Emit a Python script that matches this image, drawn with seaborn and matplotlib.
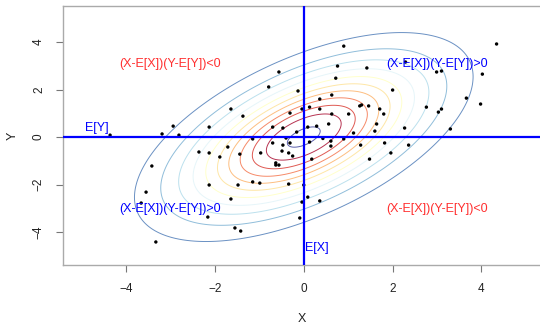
import numpy as np
import pandas as pd
import matplotlib
matplotlib.use("Agg")
import matplotlib.pyplot as plt
import seaborn as sns

# ---- data ----
pts_x = [-0.56, -0.79, -0.13, -1.64, -1.37, -0.31, -0.04, -0.70, -0.47, -2.13,
         -2.94, -3.19, -2.81, -4.36, -1.15, -0.40, 0.09, 0.29, 0.90, 4.34,
         0.76, 1.42, 2.29, 2.99, 3.10, 4.02, 0.72, 2.00, 3.66, 3.98,
         0.63, 0.36, 0.13, 0.36, 0.63, 1.26, 1.30, 1.46, 1.71, 1.80,
         2.76, 3.10, 3.03, 1.01, 0.56, 1.64, 1.60, 2.27, 3.30, 1.12,
         0.43, 0.90, -1.71, -2.36, -2.13, -1.89, -1.44, -0.97, -0.49, -0.34,
         -0.25, -0.63, -0.63, -0.56, -3.42, -2.13, -1.48, -1.15, -0.99, -0.34,
         0.00, -3.55, -1.64, 0.09, -0.04, -3.66, -2.16, -0.09, -1.55, -1.42,
         -3.33, -0.70, -0.47, -0.31, 0.18, -0.16, 0.13, 0.61, 0.61, 1.28,
         1.82, 2.36, 1.48, 1.96, 0.36]
pts_y = [2.74, 2.11, 1.94, 1.18, 0.88, 1.01, 1.18, 0.42, 0.38, 0.42,
         0.46, 0.13, 0.08, 0.08, -0.08, -0.04, 0.42, 0.46, 3.83, 3.92,
         2.99, 2.91, 3.16, 2.74, 2.78, 2.65, 2.48, 1.98, 1.64, 1.39,
         1.77, 1.60, 1.26, 1.18, 0.97, 1.31, 1.35, 1.31, 1.18, 0.97,
         1.26, 1.18, 1.05, 0.97, 0.55, 0.55, 0.25, 0.38, 0.34, 0.17,
         -0.06, -0.08, -0.42, -0.63, -0.67, -0.84, -0.72, -0.67, -0.59, -0.67,
         -0.80, -1.09, -1.18, -1.18, -1.22, -2.02, -2.02, -1.89, -1.94, -1.98,
         -2.02, -2.32, -2.61, -2.53, -2.74, -2.78, -3.37, -3.41, -3.83, -3.96,
         -4.42, -0.25, -0.34, -0.25, -0.93, 0.21, -0.21, -0.17, -0.38, -0.34,
         -0.25, -0.34, -0.93, -0.67, -2.69]

mu = [0.0, 0.0]
sigma = [[3.0, 2.0], [2.0, 4.0]]
levels = [0.005, 0.010, 0.015, 0.020, 0.025, 0.030, 0.035, 0.040, 0.045, 0.050, 0.055]
level_colors = ["#4575B4", "#74ADD1", "#ABD9E9", "#E0F3F8", "#FFFFBF", "#FEE090",
                "#FDAE61", "#F46D43", "#D73027", "#A50026", "#313695"]

neg_label = "(X-E[X])(Y-E[Y])<0"
pos_label = "(X-E[X])(Y-E[Y])>0"

df = pd.DataFrame({"X": pts_x, "Y": pts_y})

sns.set_style("white")
plt.rcParams['font.family'] = ['Liberation Sans', 'DejaVu Sans']

fig = plt.figure(figsize=(5.4, 3.25), dpi=100)
ax = fig.add_axes([63 / 540, 60 / 325, 478 / 540, 259 / 325])

# bivariate normal density on a grid
gx, gy = np.meshgrid(np.linspace(-6, 6, 400), np.linspace(-6, 6, 400))
inv = np.linalg.inv(sigma)
dx, dy = gx - mu[0], gy - mu[1]
q = inv[0][0] * dx * dx + 2 * inv[0][1] * dx * dy + inv[1][1] * dy * dy
dens = np.exp(-0.5 * q) / (2 * np.pi * np.sqrt(np.linalg.det(sigma)))
ax.contour(gx, gy, dens, levels=levels, colors=level_colors, linewidths=0.7, alpha=0.8)

sns.scatterplot(data=df, x="X", y="Y", ax=ax, color="black", s=6,
                edgecolor="none", zorder=3)

ax.axvline(0, color="#0000ff", lw=1.6, zorder=4)
ax.axhline(0, color="#0000ff", lw=1.6, zorder=4)

txt = dict(fontsize=9, ha="center", va="center")
ax.text(-3.0, 3.07, neg_label, color="#ff3030", **txt)
ax.text(3.0, -3.03, neg_label, color="#ff3030", **txt)
ax.text(3.0, 3.07, pos_label, color="#0000ff", **txt)
ax.text(-3.0, -3.03, pos_label, color="#0000ff", **txt)
ax.text(-4.67, 0.38, "E[Y]", color="#0000ff", **txt)
ax.text(0.02, -4.67, "E[X]", color="#0000ff", fontsize=9, ha="left", va="center")

ax.set_xlim(-5.42, 5.34)
ax.set_ylim(-5.39, 5.52)
ax.set_xticks([-4, -2, 0, 2, 4])
ax.set_yticks([-4, -2, 0, 2, 4])
ax.tick_params(axis="both", direction="out", length=5, width=0.8, color="#777777",
               labelsize=8.5, labelcolor="#222222", pad=8, bottom=True, left=True)
for lab in ax.get_yticklabels():
    lab.set_rotation(90)
    lab.set_va("center")
for s in ax.spines.values():
    s.set_color("#aaaaaa")
    s.set_linewidth(1.0)
ax.set_xlabel("X", fontsize=9, color="#222222", labelpad=13)
ax.set_ylabel("Y", fontsize=9, color="#222222", labelpad=10)

fig.savefig("out.png", dpi=100)
